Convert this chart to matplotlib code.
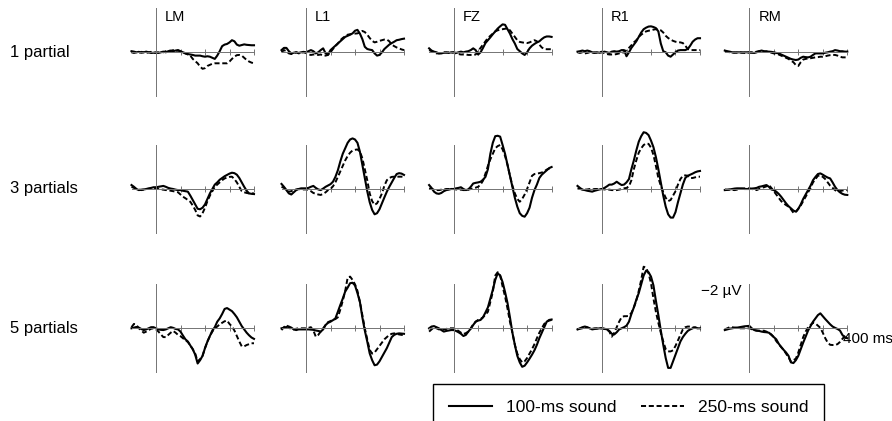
import numpy as np
import matplotlib
matplotlib.use('Agg')
import matplotlib.pyplot as plt

plt.rcParams['font.family'] = ['Liberation Sans', 'DejaVu Sans']

channels = ['LM', 'L1', 'FZ', 'R1', 'RM']
rows = ['1 partial', '3 partials', '5 partials']
legend_labels = ['100-ms sound', '250-ms sound']
t = np.arange(-100, 401, 10)  # ms, one sample every 10 ms

# amplitudes in uV (negative is drawn up), one list per channel LM, L1, FZ, R1, RM
one_partial_100 = [
  [-0.05,-0.03,0.0,-0.02,0.02,0.0,-0.03,0.0,0.03,0.02, 0.0,0.03,0.0,-0.03,0.0,-0.05,-0.08,-0.05,-0.08,-0.1,
   -0.05,0.0,0.05,0.08,0.1,0.12,0.15,0.15,0.15,0.18, 0.2,0.18,0.2,0.25,0.3,0.15,-0.05,-0.28,-0.35,-0.38,
   -0.45,-0.55,-0.5,-0.35,-0.3,-0.33,-0.36,-0.34,-0.33,-0.32, -0.32],
  [-0.1,-0.2,-0.2,-0.05,0.05,0.02,0.0,0.03,0.0,-0.02, 0.0,-0.05,-0.1,-0.05,0.05,0.0,-0.1,-0.18,0.05,0.1,
   -0.1,-0.2,-0.3,-0.4,-0.5,-0.6,-0.7,-0.75,-0.8,-0.86, -0.98,-1.02,-0.85,-0.6,-0.25,-0.15,-0.12,-0.1,0.05,0.15,
   0.12,0.0,-0.15,-0.25,-0.35,-0.42,-0.48,-0.55,-0.57,-0.6, -0.62],
  [-0.18,-0.08,-0.03,0.0,0.05,0.05,0.02,0.0,0.03,0.0, 0.0,0.03,0.0,-0.03,0.0,-0.03,-0.05,-0.1,-0.18,-0.1,
   0.1,0.0,-0.2,-0.42,-0.55,-0.68,-0.82,-0.95,-1.08,-1.18, -1.27,-1.25,-1.05,-0.85,-0.6,-0.4,-0.15,-0.05,0.05,0.12,
   0.0,-0.18,-0.3,-0.38,-0.45,-0.5,-0.6,-0.68,-0.72,-0.72, -0.7],
  [-0.03,-0.05,-0.08,-0.05,-0.08,-0.05,0.0,0.03,0.0,0.02, 0.0,-0.03,0.0,0.03,-0.03,-0.05,-0.03,-0.05,-0.1,-0.1,
   0.18,0.0,-0.2,-0.35,-0.5,-0.7,-0.9,-1.05,-1.12,-1.17, -1.18,-1.15,-1.1,-0.95,-0.4,-0.05,0.0,0.15,0.2,0.1,
   0.0,-0.08,-0.1,-0.1,-0.1,-0.15,-0.3,-0.48,-0.58,-0.64, -0.64],
  [-0.08,-0.05,-0.03,0.0,0.02,0.0,0.0,0.02,0.0,0.0, 0.0,0.02,0.03,0.0,-0.05,-0.08,-0.05,-0.03,-0.03,-0.02,
   0.0,0.03,0.05,0.1,0.15,0.2,0.25,0.3,0.33,0.35, 0.33,0.25,0.2,0.22,0.23,0.2,0.12,0.05,0.05,0.05,
   0.05,0.02,0.0,-0.03,-0.05,-0.1,-0.08,-0.05,-0.05,-0.03, -0.03],
]
one_partial_250 = [
  [0.0,0.03,0.0,0.02,-0.02,0.0,0.03,0.0,-0.02,0.02, 0.03,0.0,-0.03,0.0,-0.05,-0.08,-0.05,-0.1,-0.05,-0.08,
   -0.03,0.0,0.05,0.1,0.15,0.3,0.4,0.5,0.65,0.75, 0.72,0.62,0.57,0.52,0.5,0.5,0.5,0.5,0.5,0.5,
   0.42,0.3,0.2,0.13,0.12,0.15,0.25,0.35,0.42,0.47, 0.5],
  [0.0,-0.1,-0.05,0.05,0.08,0.05,0.0,0.05,0.03,0.0, 0.03,0.1,0.12,0.1,0.1,0.12,0.1,0.15,0.15,0.12,
   0.0,-0.15,-0.28,-0.4,-0.55,-0.65,-0.73,-0.8,-0.82,-0.84, -0.85,-0.86,-0.9,-0.97,-0.92,-0.8,-0.65,-0.52,-0.45,-0.48,
   -0.52,-0.55,-0.58,-0.58,-0.5,-0.35,-0.28,-0.22,-0.18,-0.13, -0.1],
  [-0.1,-0.05,0.0,0.05,0.05,0.03,0.0,0.02,0.0,0.03, 0.0,0.05,0.08,0.1,0.1,0.1,0.12,0.12,0.12,0.1,
   -0.05,-0.2,-0.35,-0.5,-0.65,-0.75,-0.85,-0.95,-1.0,-1.03, -1.05,-1.07,-1.09,-1.0,-0.85,-0.7,-0.55,-0.47,-0.45,-0.43,
   -0.42,-0.45,-0.5,-0.55,-0.5,-0.35,-0.22,-0.15,-0.14,-0.14, -0.14],
  [0.0,0.03,0.0,0.05,0.03,0.0,0.03,0.0,0.02,0.0, -0.03,0.05,0.08,0.1,0.1,0.1,0.08,0.05,0.03,0.0,
   -0.1,-0.2,-0.32,-0.45,-0.55,-0.7,-0.8,-0.88,-0.95,-0.98, -1.0,-1.03,-1.05,-1.03,-1.0,-0.9,-0.75,-0.65,-0.58,-0.52,
   -0.48,-0.46,-0.45,-0.42,-0.3,-0.15,-0.1,-0.1,-0.1,-0.1, -0.1],
  [-0.05,-0.03,0.0,0.02,0.0,0.02,0.0,0.0,0.03,0.0, 0.02,0.0,0.0,-0.03,-0.05,-0.05,-0.03,-0.05,0.0,0.02,
   0.05,0.08,0.1,0.15,0.2,0.25,0.3,0.38,0.45,0.58, 0.62,0.45,0.33,0.3,0.28,0.27,0.25,0.23,0.22,0.2,
   0.2,0.18,0.15,0.13,0.12,0.12,0.15,0.2,0.23,0.23, 0.23],
]
three_partials_100 = [
  [-0.18,-0.1,0.0,0.05,0.03,0.02,0.0,-0.03,-0.05,-0.08, -0.08,-0.1,-0.12,-0.14,-0.1,-0.05,-0.02,0.0,0.03,0.05,
   0.05,0.08,0.1,0.12,0.3,0.5,0.7,0.9,0.92,0.85, 0.7,0.45,0.2,0.0,-0.2,-0.3,-0.42,-0.5,-0.58,-0.64,
   -0.7,-0.74,-0.72,-0.65,-0.5,-0.3,-0.1,0.08,0.2,0.22, 0.23],
  [-0.23,-0.1,0.05,0.2,0.25,0.15,0.05,0.0,-0.03,-0.03, -0.03,-0.05,-0.1,-0.14,-0.05,0.02,0.05,-0.02,-0.1,-0.16,
   -0.22,-0.33,-0.55,-0.85,-1.25,-1.6,-1.85,-2.1,-2.25,-2.3, -2.25,-2.1,-1.7,-1.1,-0.5,0.1,0.6,0.95,1.15,1.1,
   0.92,0.65,0.38,0.12,-0.1,-0.3,-0.5,-0.68,-0.72,-0.7, -0.64],
  [-0.18,-0.05,0.12,0.2,0.22,0.18,0.1,0.05,0.03,0.0, 0.0,-0.03,-0.05,-0.08,0.0,0.05,0.02,-0.1,-0.25,-0.28,
   -0.3,-0.33,-0.42,-0.55,-0.9,-1.6,-2.1,-2.4,-2.42,-2.38, -2.0,-1.6,-1.1,-0.6,-0.1,0.4,0.8,1.1,1.22,1.26,
   1.1,0.85,0.4,0.05,-0.2,-0.5,-0.65,-0.75,-0.85,-0.95, -1.0],
  [-0.14,-0.05,0.03,0.05,0.08,0.1,0.12,0.08,0.05,0.02, 0.0,-0.05,-0.12,-0.2,-0.2,-0.25,-0.33,-0.25,-0.18,-0.2,
   -0.3,-0.45,-0.9,-1.3,-1.75,-2.15,-2.4,-2.58,-2.55,-2.45, -2.2,-1.9,-1.45,-0.9,-0.3,0.3,0.8,1.15,1.3,1.3,
   1.05,0.6,0.2,-0.2,-0.5,-0.6,-0.65,-0.7,-0.76,-0.8, -0.82],
  [0.05,0.04,0.02,0.0,-0.02,-0.03,-0.03,-0.02,0.0,0.0, 0.0,-0.02,-0.03,-0.05,-0.1,-0.12,-0.15,-0.18,-0.1,0.02,
   0.05,0.12,0.22,0.35,0.5,0.65,0.78,0.88,0.98,1.03, 0.9,0.7,0.45,0.25,0.05,-0.15,-0.4,-0.55,-0.68,-0.71,
   -0.65,-0.58,-0.52,-0.48,-0.3,-0.1,0.05,0.15,0.22,0.26, 0.27],
]
three_partials_250 = [
  [-0.1,-0.05,0.0,0.03,0.05,0.03,0.0,0.0,-0.02,-0.02, -0.02,0.0,0.02,0.03,0.05,0.05,0.08,0.1,0.12,0.15,
   0.25,0.35,0.42,0.5,0.58,0.75,0.95,1.2,1.25,1.1, 0.85,0.55,0.3,0.1,-0.1,-0.2,-0.3,-0.4,-0.48,-0.52,
   -0.55,-0.56,-0.45,-0.3,-0.1,0.1,0.15,0.18,0.2,0.2, 0.2],
  [-0.1,-0.05,0.05,0.12,0.1,0.05,0.02,0.0,0.02,0.02, 0.02,0.05,0.1,0.18,0.22,0.25,0.27,0.22,0.15,0.05,
   0.0,-0.12,-0.3,-0.55,-0.8,-1.05,-1.3,-1.5,-1.65,-1.75, -1.78,-1.8,-1.7,-1.4,-0.9,-0.4,0.2,0.55,0.72,0.65,
   0.45,0.2,-0.15,-0.4,-0.5,-0.55,-0.56,-0.56,-0.56,-0.56, -0.55],
  [-0.03,0.0,0.03,0.05,0.05,0.03,0.02,0.0,0.0,0.0, 0.0,0.02,0.03,0.03,0.05,0.05,0.03,0.0,-0.03,-0.06,
   -0.1,-0.2,-0.38,-0.7,-1.05,-1.35,-1.6,-1.85,-1.95,-2.0, -1.8,-1.5,-1.1,-0.6,-0.15,0.2,0.45,0.58,0.45,0.25,
   0.0,-0.3,-0.6,-0.68,-0.7,-0.72,-0.75,-0.8,-0.88,-0.93, -0.95],
  [-0.03,0.0,0.02,0.03,0.02,0.0,0.02,0.0,0.0,0.0, 0.0,0.02,0.03,0.03,0.05,0.05,0.05,0.03,0.0,-0.03,
   -0.05,-0.12,-0.4,-0.9,-1.3,-1.65,-1.85,-2.0,-2.07,-2.05, -1.88,-1.55,-1.05,-0.5,-0.15,0.15,0.4,0.55,0.5,0.3,
   0.1,-0.2,-0.45,-0.6,-0.62,-0.6,-0.5,-0.5,-0.53,-0.56, -0.56],
  [0.02,0.03,0.03,0.04,0.05,0.03,0.0,-0.02,-0.03,-0.03, -0.03,0.0,0.03,0.05,0.0,-0.05,-0.08,-0.12,-0.18,-0.05,
   0.1,0.25,0.4,0.55,0.65,0.73,0.8,0.92,1.08,1.05, 0.9,0.75,0.55,0.35,0.15,-0.05,-0.3,-0.45,-0.6,-0.62,
   -0.55,-0.45,-0.3,-0.15,-0.05,0.05,0.12,0.1,0.07,0.05, 0.05],
]
five_partials_100 = [
  [0.0,-0.03,-0.06,-0.03,0.03,0.08,0.05,0.0,-0.05,-0.05, 0.0,0.05,0.07,0.08,0.05,0.0,-0.05,-0.02,0.03,0.05,
   0.15,0.33,0.5,0.6,0.78,0.95,1.2,1.6,1.45,1.25, 0.9,0.6,0.35,0.1,-0.05,-0.3,-0.45,-0.65,-0.88,-0.92,
   -0.85,-0.78,-0.65,-0.5,-0.3,-0.1,0.05,0.2,0.32,0.42, 0.48],
  [0.0,-0.03,-0.06,-0.08,-0.03,0.05,0.08,0.05,0.05,0.05, 0.05,0.05,0.06,0.07,0.1,0.12,0.15,0.05,-0.15,-0.25,
   -0.3,-0.37,-0.45,-0.75,-1.06,-1.35,-1.67,-1.85,-2.05,-2.07, -1.95,-1.6,-1.2,-0.5,0.1,0.6,1.14,1.45,1.68,1.65,
   1.5,1.3,1.1,0.9,0.65,0.4,0.3,0.25,0.23,0.24, 0.25],
  [0.0,-0.08,-0.1,-0.05,0.0,0.08,0.15,0.12,0.1,0.08, 0.08,0.12,0.18,0.25,0.35,0.3,0.15,0.02,-0.15,-0.3,
   -0.35,-0.38,-0.5,-0.72,-0.95,-1.35,-1.75,-2.2,-2.5,-2.4, -2.1,-1.65,-1.15,-0.5,0.2,0.75,1.25,1.55,1.75,1.7,
   1.55,1.38,1.2,1.0,0.75,0.45,0.2,-0.05,-0.3,-0.38, -0.4],
  [0.05,0.0,-0.05,-0.08,-0.05,0.0,0.05,0.03,0.02,0.0, 0.0,0.02,0.05,0.12,0.25,0.28,0.18,0.05,0.0,-0.05,
   -0.12,-0.3,-0.65,-0.95,-1.3,-1.6,-2.0,-2.4,-2.62,-2.55, -2.35,-1.95,-1.25,-0.6,0.1,0.75,1.35,1.8,1.8,1.5,
   1.2,0.9,0.6,0.4,0.25,0.12,0.05,0.0,-0.05,0.0, 0.0],
  [0.08,0.05,0.02,0.0,-0.02,-0.03,-0.05,-0.07,-0.09,-0.1, -0.11,0.0,0.08,0.1,0.12,0.15,0.17,0.18,0.2,0.3,
   0.4,0.5,0.7,0.85,0.98,1.1,1.25,1.55,1.58,1.45, 1.25,0.95,0.65,0.38,0.1,-0.1,-0.3,-0.45,-0.6,-0.68,
   -0.55,-0.42,-0.3,-0.18,-0.08,-0.02,0.03,0.1,0.3,0.42, 0.45],
]
five_partials_250 = [
  [-0.05,-0.2,-0.15,0.0,0.1,0.2,0.15,0.08,0.02,0.0, 0.05,0.15,0.28,0.4,0.4,0.3,0.2,0.12,0.2,0.3,
   0.36,0.45,0.55,0.62,0.78,0.95,1.15,1.5,1.4,1.25, 0.9,0.6,0.35,0.15,0.0,-0.08,-0.18,-0.25,-0.32,-0.35,
   -0.2,-0.08,0.1,0.35,0.6,0.82,0.82,0.76,0.72,0.68, 0.68],
  [0.08,-0.05,-0.15,-0.05,0.05,0.05,0.02,0.0,0.0,0.0, 0.0,-0.02,-0.05,0.1,0.38,0.3,0.15,0.0,-0.15,-0.28,
   -0.33,-0.38,-0.42,-0.5,-0.85,-1.25,-1.7,-2.3,-2.35,-2.2, -2.0,-1.7,-1.2,-0.6,0.0,0.5,0.98,1.15,1.1,0.95,
   0.8,0.65,0.5,0.4,0.3,0.25,0.23,0.25,0.28,0.3, 0.3],
  [0.15,0.05,-0.05,0.0,0.05,0.08,0.05,0.03,0.0,0.0, 0.0,0.05,0.12,0.2,0.26,0.22,0.15,0.0,-0.18,-0.3,
   -0.38,-0.42,-0.5,-0.62,-0.75,-1.2,-1.65,-2.4,-2.55,-2.4, -1.9,-1.45,-0.9,-0.3,0.2,0.75,1.15,1.4,1.55,1.5,
   1.35,1.15,0.95,0.72,0.45,0.2,0.0,-0.2,-0.3,-0.35, -0.38],
  [0.05,0.02,0.0,-0.05,-0.03,0.0,0.02,0.0,0.0,0.0, 0.0,0.03,0.05,0.15,0.38,0.2,-0.05,-0.3,-0.5,-0.55,
   -0.55,-0.57,-0.7,-0.95,-1.25,-1.7,-2.2,-2.8,-2.75,-2.5, -2.05,-1.35,-0.75,-0.25,0.2,0.6,0.95,1.05,1.05,1.0,
   0.8,0.55,0.3,0.05,-0.05,-0.08,-0.08,-0.05,-0.02,0.0, 0.0],
  [0.05,0.0,-0.05,-0.05,-0.03,-0.02,0.0,0.0,0.0,0.0, 0.0,0.04,0.08,0.11,0.11,0.11,0.11,0.15,0.2,0.28,
   0.4,0.58,0.72,0.85,0.98,1.15,1.32,1.52,1.45,1.38, 1.1,0.75,0.4,0.15,-0.05,-0.15,-0.25,-0.22,-0.12,-0.02,
   0.2,0.45,0.65,0.75,0.76,0.76,0.72,0.62,0.48,0.36, 0.3],
]

short_sound = [one_partial_100, three_partials_100, five_partials_100]
long_sound = [one_partial_250, three_partials_250, five_partials_250]

# layout in pixels
W, H = 892, 421
zero_x = [156, 306, 453.6, 602, 749.3]
base_y = [52.3, 189, 328.3]
px_ms = 0.245
px_uv = 22.0

fig = plt.figure(figsize=(W / 100, H / 100), dpi=100)

handles = None
for r in range(3):
  for c in range(5):
    w = 500 * px_ms
    h = 4.4 * px_uv
    left = zero_x[c] - 100 * px_ms
    bottom = H - base_y[r] - h / 2
    ax = fig.add_axes([left / W, bottom / H, w / W, h / H])
    ax.patch.set_visible(False)
    ax.set_xlim(-100, 400)
    ax.set_ylim(2.2, -2.2)
    for s in ['top', 'right']:
      ax.spines[s].set_visible(False)
    ax.spines['left'].set_position(('data', 0))
    ax.spines['bottom'].set_position(('data', 0))
    ax.spines['left'].set_bounds(-2, 2)
    ax.spines['bottom'].set_bounds(-100, 400)
    for s in ['left', 'bottom']:
      ax.spines[s].set_color('0.45')
      ax.spines[s].set_linewidth(0.7)
    ax.set_xticks([100, 200, 300, 400])
    ax.set_xticklabels([])
    ax.set_yticks([])
    ax.tick_params(axis='x', direction='inout', length=4, width=0.7, color='0.45')

    l1, = ax.plot(t, short_sound[r][c], color='black', lw=1.5, clip_on=False)
    l2, = ax.plot(t, long_sound[r][c], color='black', lw=1.4, clip_on=False,
                  dashes=(2.6, 1.4))
    if handles is None:
      handles = [l1, l2]

for c, name in enumerate(channels):
  fig.text((zero_x[c] + 9) / W, 1 - 17 / H, name, ha='left', va='center', fontsize=10.5)

for r, name in enumerate(rows):
  fig.text(10 / W, 1 - base_y[r] / H, name, ha='left', va='center', fontsize=12)

fig.text((zero_x[4] - 8) / W, 1 - 291 / H, '\u22122 \u00b5V', ha='right', va='center', fontsize=11)
fig.text(843 / W, 1 - 339 / H, '400 ms', ha='left', va='center', fontsize=11)

leg = fig.legend(handles, legend_labels, ncol=2, loc='upper left',
                 bbox_to_anchor=(433 / W, 1 - 384 / H), borderaxespad=0,
                 fontsize=12.5, frameon=True, fancybox=False, framealpha=1,
                 edgecolor='black', borderpad=0.9, handlelength=2.5,
                 handletextpad=0.8, columnspacing=1.4)
leg.get_frame().set_linewidth(1.0)

fig.savefig('out.png', dpi=100)
